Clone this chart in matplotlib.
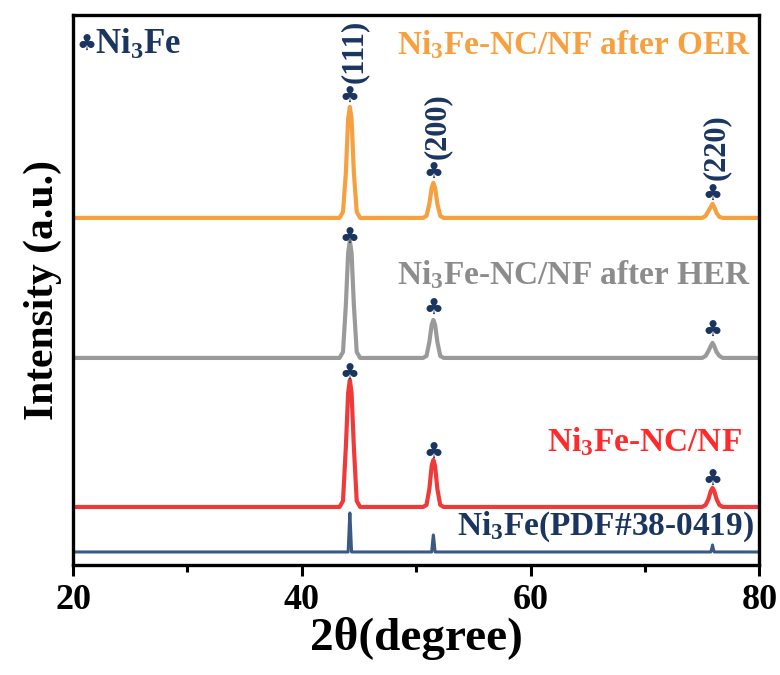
import numpy as np
import matplotlib

matplotlib.use("Agg")
import matplotlib.pyplot as plt

plt.rcParams["font.family"] = ["Liberation Serif", "DejaVu Sans"]
plt.rcParams["font.weight"] = "bold"
plt.rcParams["axes.labelweight"] = "bold"
plt.rcParams["mathtext.fontset"] = "custom"
plt.rcParams["mathtext.rm"] = "Liberation Serif:bold"
plt.rcParams["mathtext.it"] = "Liberation Serif:bold"
plt.rcParams["mathtext.bf"] = "Liberation Serif:bold"

# knots of the broadened patterns (2theta, degree)
TWO_THETA = [20, 43.3, 43.6, 43.85, 44.05, 44.2, 44.35, 44.55, 44.8, 45.1,
             50.6, 50.9, 51.15, 51.35, 51.5, 51.65, 51.85, 52.1, 52.4,
             75.0, 75.3, 75.55, 75.75, 75.9, 76.05, 76.25, 76.5, 76.8, 80]

# intensities (arbitrary units, offsets included)
OER = [347, 347, 353, 392, 446, 458, 446, 392, 353, 347,
       347, 349, 361, 377, 382, 377, 361, 349, 347,
       347, 349, 354, 358, 361, 358, 352, 348, 347, 347]
HER = [207, 207, 213, 260, 312, 324, 312, 260, 213, 207,
       207, 209, 223, 240, 245, 240, 223, 209, 207,
       207, 209, 214, 219, 222, 219, 213, 209, 207, 207]
PRISTINE = [58, 58, 64, 118, 172, 185, 172, 118, 64, 58,
            58, 60, 76, 99, 105, 99, 76, 60, 58,
            58, 60, 66, 74, 77, 74, 66, 60, 58, 58]

# standard card: sticks
PDF_THETA = [20, 44.05, 44.15, 44.2, 44.25, 44.35, 51.35, 51.45, 51.5, 51.55, 51.65,
             75.75, 75.85, 75.9, 75.95, 76.05, 80]
PDF = [13, 13, 40, 52, 40, 13, 13, 25, 30, 25, 13,
       13, 17, 20, 17, 13, 13]

PEAKS = [44.2, 51.5, 75.9]
HKL = ["(111)", "(200)", "(220)"]
CLUB_Y = {"OER": [468, 392, 370], "HER": [327, 256, 234], "PRISTINE": [191, 112, 85]}

NAVY = "#1a3560"
C_OER = "#f7a040"
C_HER = "#9a9a9a"
C_HER_TXT = "#8c8c8c"
C_RED = "#f03a3a"
C_RED_TXT = "#ff2a2a"
C_PDF = "#3a5a85"

fig = plt.figure(figsize=(7.8, 6.75), dpi=100)
ax = fig.add_axes([0.0936, 0.163, 0.880, 0.815])

ax.plot(PDF_THETA, PDF, color=C_PDF, lw=2.2)
ax.plot(TWO_THETA, PRISTINE, color=C_RED, lw=3)
ax.plot(TWO_THETA, HER, color=C_HER, lw=3)
ax.plot(TWO_THETA, OER, color=C_OER, lw=3)

for key in CLUB_Y:
    for x, y in zip(PEAKS, CLUB_Y[key]):
        ax.text(x, y, "\u2663", color=NAVY, fontsize=16, ha="center", va="center",
                family=["DejaVu Sans"])

hkl_y = [482, 406, 385]
for x, y, s in zip(PEAKS, hkl_y, HKL):
    ax.text(x + 0.35, y, s, color=NAVY, fontsize=22, rotation=90, ha="center",
            va="bottom", clip_on=False)

ax.text(20.3, 520, "\u2663", color=NAVY, fontsize=16, ha="left", va="center",
        family=["DejaVu Sans"])
ax.text(21.9, 520, "Ni$_3$Fe", color=NAVY, fontsize=25, ha="left", va="center")
ax.text(79.3, 520, "Ni$_3$Fe-NC/NF after OER", color=C_OER, fontsize=24,
        ha="right", va="center")
ax.text(79.3, 290, "Ni$_3$Fe-NC/NF after HER", color=C_HER_TXT, fontsize=24,
        ha="right", va="center")
ax.text(78.5, 123, "Ni$_3$Fe-NC/NF", color=C_RED_TXT, fontsize=24,
        ha="right", va="center")
ax.text(79.5, 38, "Ni$_3$Fe(PDF#38-0419)", color=NAVY, fontsize=24,
        ha="right", va="center")

ax.set_xlim(20, 80)
ax.set_ylim(0, 550)
ax.set_xticks([20, 40, 60, 80])
ax.set_xticks([30, 50, 70], minor=True)
ax.set_yticks([])
ax.tick_params(axis="x", which="major", length=8, width=2.2, labelsize=26, pad=6)
ax.tick_params(axis="x", which="minor", length=5, width=2.2)
for sp in ax.spines.values():
    sp.set_linewidth(2.4)

ax.set_xlabel("2\u03b8(degree)", fontsize=34, labelpad=0)
ax.set_ylabel("Intensity (a.u.)", fontsize=30, labelpad=8)

fig.savefig("out.png", dpi=100)
